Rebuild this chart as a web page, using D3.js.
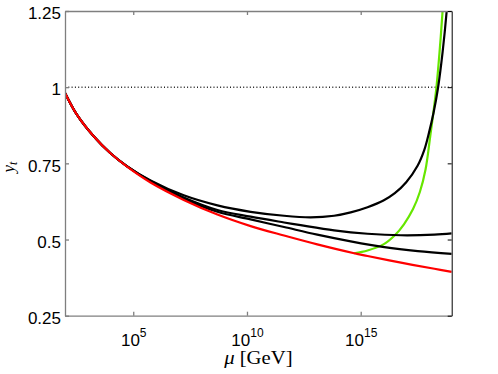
<!DOCTYPE html>
<html>
<head>
<meta charset="utf-8">
<script src="https://cdn.jsdelivr.net/npm/d3@7"></script>
<style>
body { margin: 0; background: #fff; }
</style>
</head>
<body>
<svg width="498" height="374"></svg>
<script>
// mu exponents (log10 of mu in GeV) and y_t
const redExp   = [2, 2.53, 3.27, 4.0, 4.73, 5.76, 7.22, 8.70, 10.16, 11.63, 13.09, 14.71, 15.30, 16.77, 18.24, 19]
const redY     = [0.981, 0.909, 0.838, 0.783, 0.739, 0.687, 0.630, 0.582, 0.544, 0.513, 0.484, 0.455, 0.446, 0.424, 0.404, 0.394]

const blackAExp = [2, 2.53, 3.27, 4.0, 4.73, 5.76, 7.22, 8.70, 10.16, 11.63, 12.8, 13.83, 14.56, 15.30, 16.0, 16.5, 17.0, 17.5, 17.8, 18.0, 18.2, 18.4, 18.6, 18.78, 18.85]
const blackAY   = [0.981, 0.909, 0.838, 0.783, 0.740, 0.694, 0.645, 0.612, 0.591, 0.578, 0.573, 0.578, 0.589, 0.606, 0.628, 0.652, 0.688, 0.742, 0.795, 0.850, 0.915, 0.998, 1.115, 1.25, 1.32]

const blackBExp = [2, 2.53, 3.27, 4.0, 4.73, 5.76, 7.22, 8.70, 10.16, 11.63, 12.36, 13.83, 15.30, 16.77, 18.24, 19]
const blackBY   = [0.981, 0.909, 0.838, 0.783, 0.740, 0.692, 0.638, 0.597, 0.575, 0.556, 0.547, 0.530, 0.519, 0.514, 0.516, 0.520]

const blackCExp = [2, 2.53, 3.27, 4.0, 4.73, 5.76, 7.22, 8.70, 10.16, 11.63, 13.09, 14.56, 16.04, 17.51, 19]
const blackCY   = [0.981, 0.909, 0.838, 0.783, 0.740, 0.690, 0.634, 0.591, 0.566, 0.541, 0.516, 0.494, 0.475, 0.462, 0.453]

const greenExp = [14.71, 15.30, 16.0, 16.5, 16.9, 17.3, 17.6, 17.85, 18.05, 18.2, 18.33, 18.46, 18.59, 18.65]
const greenY   = [0.455, 0.464, 0.484, 0.514, 0.550, 0.600, 0.656, 0.730, 0.835, 0.920, 1.0, 1.11, 1.24, 1.32]

const xTickExp = [5, 10, 15]
const yTicks = [0.25, 0.5, 0.75, 1, 1.25]
const yTickLabels = ["0.25", "0.5", "0.75", "1", "1.25"]
const refLine = 1

const svg = d3.select("svg")
const plotLeft = 65, plotRight = 451.7, plotTop = 11, plotBottom = 315.7

const x = d3.scaleLog().domain([1e2, 1e19]).range([plotLeft, plotRight])
const y = d3.scaleLinear().domain([0.25, 1.25]).range([plotBottom, plotTop])

const pts = (ex, ys) => ex.map((e, i) => [Math.pow(10, e), ys[i]])

svg.append("clipPath").attr("id", "plot")
  .append("rect")
  .attr("x", plotLeft).attr("y", plotTop)
  .attr("width", plotRight - plotLeft).attr("height", plotBottom - plotTop)

const gray = "#7f7f7f"
const tickFont = "'Liberation Sans', Arial, sans-serif"

// dotted line at y_t = 1
svg.append("line")
  .attr("x1", plotLeft).attr("x2", plotRight)
  .attr("y1", y(refLine)).attr("y2", y(refLine))
  .attr("stroke", "#222")
  .attr("stroke-width", 1.5)
  .attr("stroke-dasharray", "1,2.3")

const line = d3.line()
  .x(d => x(d[0]))
  .y(d => y(d[1]))
  .curve(d3.curveCatmullRom.alpha(0.5))

const curves = svg.append("g").attr("clip-path", "url(#plot)")
  .attr("fill", "none")
  .attr("stroke-width", 2.2)
  .attr("stroke-linejoin", "round")

curves.append("path").attr("d", line(pts(greenExp, greenY))).attr("stroke", "#66e600")
curves.append("path").attr("d", line(pts(blackCExp, blackCY))).attr("stroke", "#000")
curves.append("path").attr("d", line(pts(blackBExp, blackBY))).attr("stroke", "#000")
curves.append("path").attr("d", line(pts(blackAExp, blackAY))).attr("stroke", "#000")
curves.append("path").attr("d", line(pts(redExp, redY))).attr("stroke", "#ff0000")

// axes
const xTicks = xTickExp.map(e => Math.pow(10, e))

const xBottom = svg.append("g")
  .attr("transform", `translate(0,${plotBottom})`)
  .call(d3.axisBottom(x).tickValues(xTicks).tickSize(-4).tickSizeOuter(0).tickPadding(12))
xBottom.selectAll("path, line").attr("stroke", gray).attr("stroke-width", 1.3)
xBottom.selectAll("text")
  .attr("font-family", tickFont)
  .attr("font-size", 17)
  .attr("fill", "#000")
  .attr("dy", "1.05em")
  .each(function(d, i) {
    const t = d3.select(this)
    t.text(null)
    t.append("tspan").text("10")
    t.append("tspan").attr("dy", -9).attr("font-size", 12).text(xTickExp[i])
  })

const xTopAxis = svg.append("g")
  .attr("transform", `translate(0,${plotTop})`)
  .call(d3.axisTop(x).tickValues(xTicks).tickSize(-4).tickSizeOuter(0).tickFormat(""))
xTopAxis.selectAll("path, line").attr("stroke", gray).attr("stroke-width", 1.3)

const yLeft = svg.append("g")
  .attr("transform", `translate(${plotLeft},0)`)
  .call(d3.axisLeft(y).tickValues(yTicks).tickSize(-4).tickSizeOuter(0).tickPadding(4)
    .tickFormat((d, i) => yTickLabels[i]))
yLeft.selectAll("path, line").attr("stroke", gray).attr("stroke-width", 1.3)
yLeft.selectAll("text")
  .attr("font-family", tickFont)
  .attr("font-size", 17)
  .attr("fill", "#000")
  .attr("dy", "0.45em")

const yRight = svg.append("g")
  .attr("transform", `translate(${plotRight},0)`)
  .call(d3.axisRight(y).tickValues(yTicks).tickSize(-4).tickSizeOuter(0).tickFormat(""))
yRight.selectAll("path, line").attr("stroke", "#000").attr("stroke-width", 1)

// axis titles
const xTitle = svg.append("text")
  .attr("transform", `translate(${(plotLeft + plotRight) / 2},364) scale(1.15,1)`)
  .attr("text-anchor", "middle")
  .attr("font-family", "'Liberation Serif', 'Times New Roman', serif")
  .attr("font-size", 18)
xTitle.append("tspan").attr("font-style", "italic").text("μ")
xTitle.append("tspan").text(" [GeV]")

const yTitle = svg.append("text")
  .attr("transform", `translate(14,167) rotate(-90)`)
  .attr("text-anchor", "middle")
  .attr("font-family", "'Liberation Serif', 'Times New Roman', serif")
  .attr("font-style", "italic")
  .attr("font-size", 17)
yTitle.append("tspan").text("y")
yTitle.append("tspan").attr("dy", 3).attr("font-size", 12).text("t")
</script>
</body>
</html>
